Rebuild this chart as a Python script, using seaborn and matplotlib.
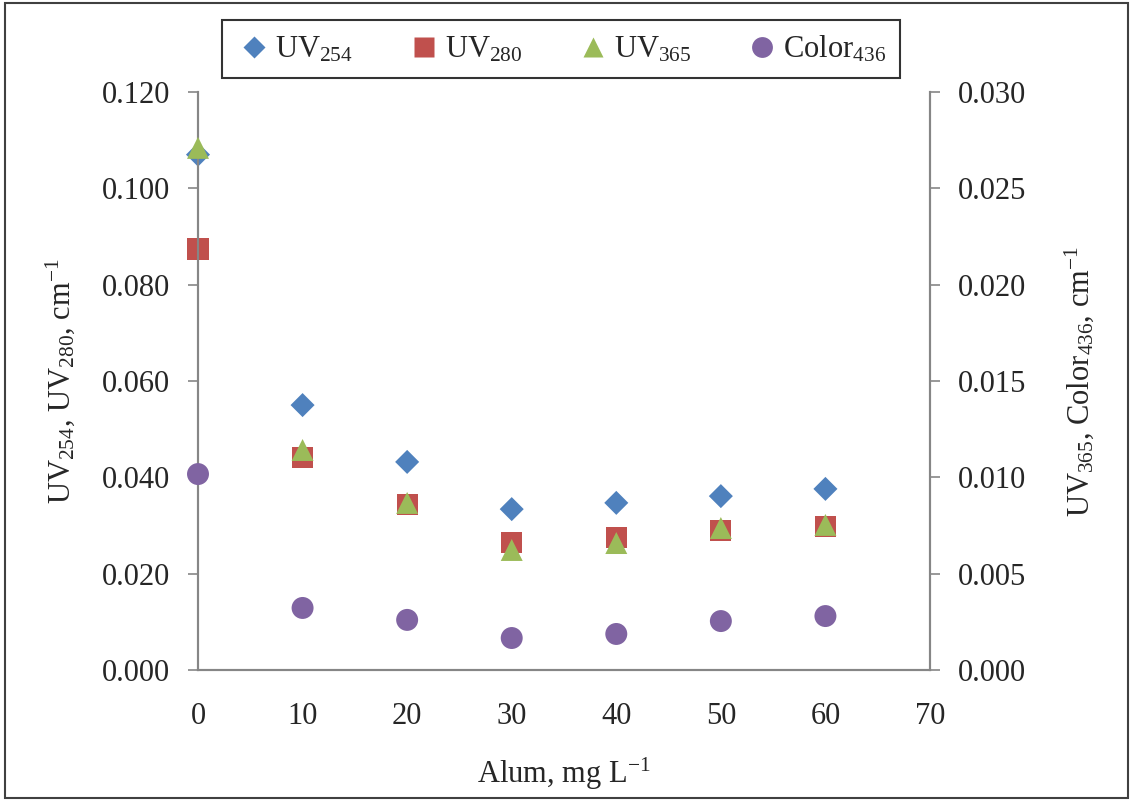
import numpy as np
import pandas as pd
import matplotlib
matplotlib.use("Agg")
import matplotlib.pyplot as plt
from matplotlib.ticker import MultipleLocator, FormatStrFormatter
from matplotlib.lines import Line2D
from matplotlib.patches import Rectangle
import seaborn as sns

# ---- data ----
alum = [0, 10, 20, 30, 40, 50, 60]
uv254 = [0.107, 0.055, 0.0432, 0.0334, 0.0347, 0.0361, 0.0376]
uv280 = [0.0874, 0.0442, 0.0343, 0.0264, 0.0276, 0.0289, 0.0297]
uv365 = [0.0271, 0.01142, 0.00867, 0.00623, 0.00659, 0.00737, 0.00753]
color436 = [0.01017, 0.00322, 0.0026, 0.00166, 0.00187, 0.00254, 0.0028]
series_labels = ["UV$_{254}$", "UV$_{280}$", "UV$_{365}$", "Color$_{436}$"]

sns.set_style("white")
plt.rcParams["font.family"] = ["Liberation Serif", "DejaVu Serif"]
plt.rcParams["mathtext.fontset"] = "custom"
plt.rcParams["mathtext.rm"] = "Liberation Serif"
plt.rcParams["mathtext.it"] = "Liberation Serif"
plt.rcParams["mathtext.default"] = "rm"

colors = ["#4F81BD", "#C0504D", "#9BBB59", "#8064A2"]
gray = "#868686"
fs = 22

fig = plt.figure(figsize=(11.33, 8.01), dpi=100)
ax = fig.add_axes([198/1133, 1 - 670/801, (930-198)/1133, (670-92)/801])
ax2 = ax.twinx()

df = pd.DataFrame({"alum": alum, "uv254": uv254, "uv280": uv280,
                   "uv365": uv365, "color436": color436})

sns.scatterplot(data=df, x="alum", y="uv254", ax=ax, marker="D", s=150,
                color=colors[0], edgecolor="none", zorder=3, clip_on=False)
sns.scatterplot(data=df, x="alum", y="uv280", ax=ax, marker="s", s=230,
                color=colors[1], edgecolor="none", zorder=3, clip_on=False)
sns.scatterplot(data=df, x="alum", y="uv365", ax=ax2, marker="^", s=250,
                color=colors[2], edgecolor="none", zorder=4, clip_on=False)
sns.scatterplot(data=df, x="alum", y="color436", ax=ax2, marker="o", s=250,
                color=colors[3], edgecolor="none", zorder=4, clip_on=False)

ax.set_xlim(0, 70)
ax.set_ylim(0, 0.12)
ax2.set_ylim(0, 0.03)
ax.xaxis.set_major_locator(MultipleLocator(10))
ax.xaxis.set_minor_locator(MultipleLocator(5))
ax.yaxis.set_major_locator(MultipleLocator(0.02))
ax2.yaxis.set_major_locator(MultipleLocator(0.005))
ax.yaxis.set_major_formatter(FormatStrFormatter("%.3f"))
ax2.yaxis.set_major_formatter(FormatStrFormatter("%.3f"))

for a in (ax, ax2):
    a.spines["top"].set_visible(False)
    for s in ("left", "right", "bottom"):
        a.spines[s].set_color(gray)
        a.spines[s].set_linewidth(1.5)
    a.tick_params(axis="both", which="both", direction="out", length=7,
                  width=1.2, color=gray, labelsize=fs, pad=13)
    a.set_xlabel("")
ax.tick_params(axis="x", which="major", pad=16)
ax.tick_params(axis="x", which="minor", length=7)

ax.set_xlabel("Alum, mg L$^{-1}$", fontsize=fs, labelpad=18)
ax.set_ylabel("UV$_{254}$, UV$_{280}$, cm$^{-1}$", fontsize=fs, labelpad=18)
ax2.set_ylabel("UV$_{365}$, Color$_{436}$, cm$^{-1}$", fontsize=fs, labelpad=26)

# legend
markers = ["D", "s", "^", "o"]
msizes = [11, 14, 15, 15]
handles = [Line2D([], [], linestyle="none", marker=m, markersize=ms,
                  markerfacecolor=c, markeredgecolor="none")
           for m, ms, c in zip(markers, msizes, colors)]
leg = fig.legend(handles, series_labels, loc="center",
                 bbox_to_anchor=(561/1133, 1 - 49/801), ncol=4,
                 frameon=True, fontsize=fs, handletextpad=0.1,
                 columnspacing=1.7, borderpad=0.45, fancybox=False,
                 handlelength=1.2)
leg.get_frame().set_edgecolor("black")
leg.get_frame().set_linewidth(1.5)

# outer figure border
fig.patches.append(Rectangle((0.004, 0.004), 0.992, 0.992, transform=fig.transFigure,
                             fill=False, edgecolor="#404040", linewidth=1.5))

fig.savefig("out.png", dpi=100)
